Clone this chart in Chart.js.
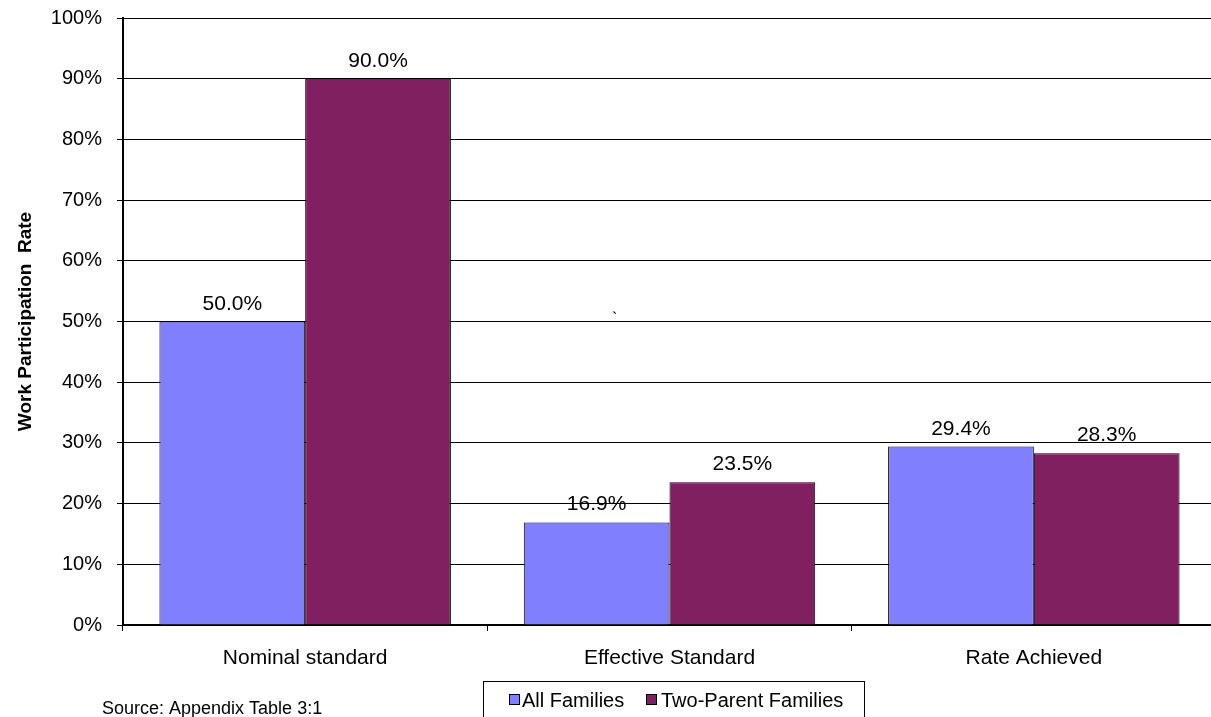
<!DOCTYPE html>
<html>
<head>
<meta charset="utf-8">
<script src="https://cdn.jsdelivr.net/npm/chart.js@4.4.1/dist/chart.umd.min.js"></script>
<style>
  html, body { margin: 0; padding: 0; background: #fff; overflow: hidden; }
  canvas { display: block; }
</style>
</head>
<body>
<canvas id="c" width="1216" height="717"></canvas>
<script>
const categories = ["Nominal standard", "Effective Standard", "Rate Achieved"];
const allFamilies = [50.0, 16.9, 29.4];
const twoParentFamilies = [90.0, 23.5, 28.3];
const seriesNames = ["All Families", "Two-Parent Families"];
const seriesColors = ["#8080ff", "#802060"];
const sourceNote = "Source: Appendix Table 3:1";

const FONT = "'Liberation Sans', Arial, sans-serif";

// Value labels above each bar
const valueLabels = {
  id: "valueLabels",
  afterDatasetsDraw(chart) {
    const ctx = chart.ctx;
    ctx.save();
    ctx.font = "21px " + FONT;
    ctx.fillStyle = "#000";
    ctx.textAlign = "center";
    ctx.textBaseline = "alphabetic";
    chart.data.datasets.forEach((ds, i) => {
      chart.getDatasetMeta(i).data.forEach((bar, j) => {
        ctx.fillText(ds.data[j].toFixed(1) + "%", bar.x, bar.y - 12);
      });
    });
    ctx.restore();
  }
};

// Boxed legend, source note and stray mark
const extras = {
  id: "extras",
  afterDraw(chart) {
    const ctx = chart.ctx;
    ctx.save();
    ctx.strokeStyle = "#000";
    ctx.lineWidth = 1;
    ctx.strokeRect(483.5, 681.5, 381, 50);
    ctx.font = "20px " + FONT;
    ctx.textBaseline = "middle";
    ctx.textAlign = "left";
    const items = [{ x: 509, t: 522 }, { x: 646, t: 661 }];
    items.forEach((it, i) => {
      ctx.fillStyle = seriesColors[i];
      ctx.fillRect(it.x + 0.5, 694.5, 10, 10);
      ctx.strokeRect(it.x + 0.5, 694.5, 10, 10);
      ctx.fillStyle = "#000";
      ctx.fillText(seriesNames[i], it.t, 701);
    });
    ctx.font = "18px " + FONT;
    ctx.fillText(sourceNote, 102, 709);
    ctx.font = "16px " + FONT;
    ctx.fillText("`", 612, 320);
    ctx.restore();
  }
};

new Chart(document.getElementById("c"), {
  type: "bar",
  data: {
    labels: categories,
    datasets: [
      { label: seriesNames[0], data: allFamilies, backgroundColor: seriesColors[0], borderColor: "#000", borderWidth: 1 },
      { label: seriesNames[1], data: twoParentFamilies, backgroundColor: seriesColors[1], borderColor: "#000", borderWidth: 1 }
    ]
  },
  options: {
    responsive: false,
    animation: false,
    layout: { padding: { top: 0, right: 0, left: 0, bottom: 0 } },
    plugins: { legend: { display: false }, tooltip: { enabled: false } },
    datasets: { bar: { categoryPercentage: 0.8, barPercentage: 1.0 } },
    scales: {
      x: {
        afterFit(s) { s.height = 92; },
        grid: { offset: true, drawOnChartArea: false, color: "#000", tickLength: 6 },
        border: { color: "#000", width: 2 },
        ticks: { color: "#000", font: { family: FONT, size: 21 }, padding: 15 }
      },
      y: {
        min: 0, max: 100,
        afterFit(s) { s.width = 123; },
        ticks: { stepSize: 10, color: "#000", font: { family: FONT, size: 20, lineHeight: 0.3 }, padding: 15,
                 callback: v => v + "%" },
        grid: { color: "#000", lineWidth: 1, tickLength: 6 },
        border: { color: "#000", width: 2 },
        title: { display: true, text: "Work Participation  Rate", color: "#000",
                 font: { family: FONT, size: 19, weight: "bold" }, padding: { top: 14, bottom: 0 } }
      }
    }
  },
  plugins: [valueLabels, extras]
});
</script>
</body>
</html>
